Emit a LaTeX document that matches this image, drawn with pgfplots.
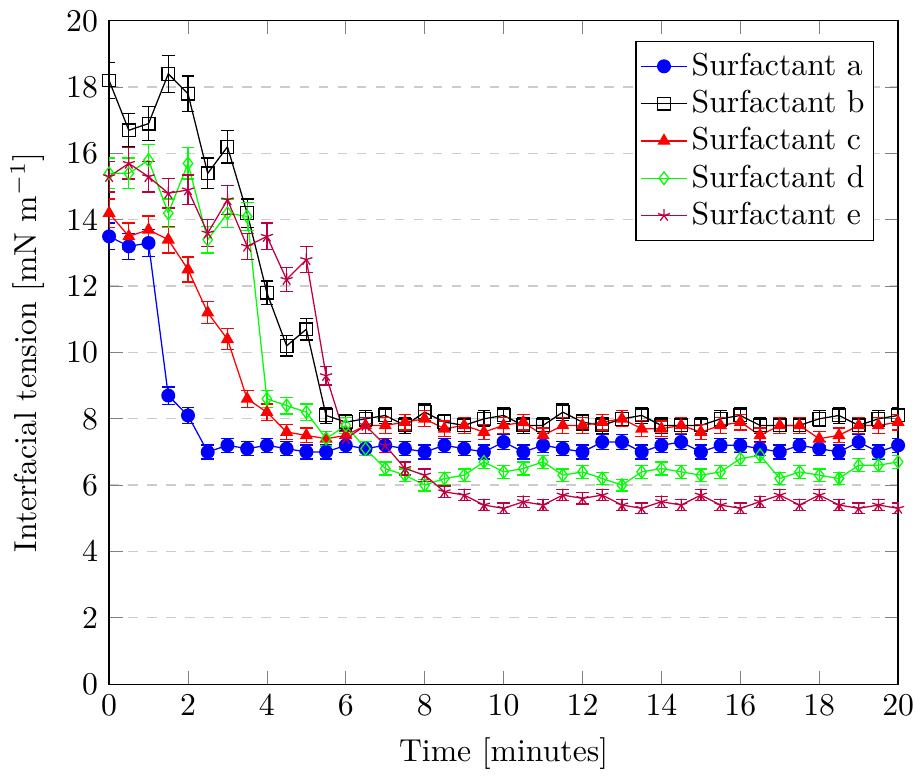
\documentclass[border=0pt]{standalone}
\usepackage{pgfplots}
\usepackage{pgfplotstable}
\pgfplotsset{compat=1.18}
\pgfplotstableread{
x a b c d e
0 13.5 18.2 14.2 15.4 15.3
0.5 13.2 16.7 13.5 15.4 15.7
1 13.3 16.9 13.7 15.8 15.3
1.5 8.7 18.4 13.4 14.2 14.8
2 8.1 17.8 12.5 15.7 14.9
2.5 7.0 15.4 11.2 13.4 13.6
3 7.2 16.2 10.4 14.2 14.6
3.5 7.1 14.2 8.6 14.1 13.2
4 7.2 11.8 8.2 8.6 13.5
4.5 7.1 10.2 7.6 8.4 12.2
5 7.0 10.7 7.5 8.2 12.8
5.5 7.0 8.1 7.4 7.4 9.3
6 7.2 7.9 7.5 7.8 7.4
6.5 7.1 8.0 7.8 7.1 7.8
7 7.2 8.1 7.8 6.5 7.2
7.5 7.1 7.8 7.9 6.3 6.5
8 7.0 8.2 8.0 6.0 6.3
8.5 7.2 7.9 7.7 6.2 5.8
9 7.1 7.8 7.8 6.3 5.7
9.5 7.0 8.0 7.6 6.7 5.4
10 7.3 8.1 7.8 6.4 5.3
10.5 7.0 7.8 7.9 6.5 5.5
11 7.2 7.8 7.5 6.7 5.4
11.5 7.1 8.2 7.8 6.3 5.7
12 7.0 7.9 7.8 6.4 5.6
12.5 7.3 7.8 7.9 6.2 5.7
13 7.3 8.0 8.0 6.0 5.4
13.5 7.0 8.1 7.7 6.4 5.3
14 7.2 7.8 7.7 6.5 5.5
14.5 7.3 7.8 7.8 6.4 5.4
15 7.0 7.8 7.6 6.3 5.7
15.5 7.2 8.0 7.8 6.4 5.4
16 7.2 8.1 7.9 6.8 5.3
16.5 7.1 7.8 7.5 6.9 5.5
17 7.0 7.8 7.8 6.2 5.7
17.5 7.2 7.8 7.8 6.4 5.4
18 7.1 8.0 7.4 6.3 5.7
18.5 7.0 8.1 7.5 6.2 5.4
19 7.3 7.8 7.8 6.6 5.3
19.5 7.0 8.0 7.8 6.6 5.4
20 7.2 8.1 7.9 6.7 5.3
}\datatable
\begin{document}
\begin{tikzpicture}
\begin{axis}[
  scale only axis,
  width=248.6pt, height=209pt,
  xmin=0, xmax=20, ymin=0, ymax=20,
  xtick={0,2,...,20}, ytick={0,2,...,20},
  xticklabel style={inner xsep=0pt},
  ymajorgrids,
  grid style={dashed, gray!40},
  xlabel={Time [minutes]},
  ylabel={Interfacial tension [mN m$^{-1}$]},
  legend cell align=left,
  legend style={at={(0.97,0.97)}, anchor=north east,
    inner xsep=1.5pt, inner ysep=2pt,
    nodes={inner xsep=1.4pt, inner ysep=1.6pt}},
  legend image code/.code={%
    \draw[mark repeat=2,mark phase=2] plot coordinates {(0cm,0cm) (0.25cm,0cm) (0.5cm,0cm)};},
  error bars/y dir=both,
  error bars/y fixed relative=0.03,
]
\addplot[blue, mark=*] table[x=x, y=a] {\datatable};
\addlegendentry{Surfactant a}
\addplot[black, mark=square] table[x=x, y=b] {\datatable};
\addlegendentry{Surfactant b}
\addplot[red, mark=triangle*] table[x=x, y=c] {\datatable};
\addlegendentry{Surfactant c}
\addplot[green, mark=diamond] table[x=x, y=d] {\datatable};
\addlegendentry{Surfactant d}
\addplot[purple, mark=star] table[x=x, y=e] {\datatable};
\addlegendentry{Surfactant e}
\end{axis}
\end{tikzpicture}
\end{document}
